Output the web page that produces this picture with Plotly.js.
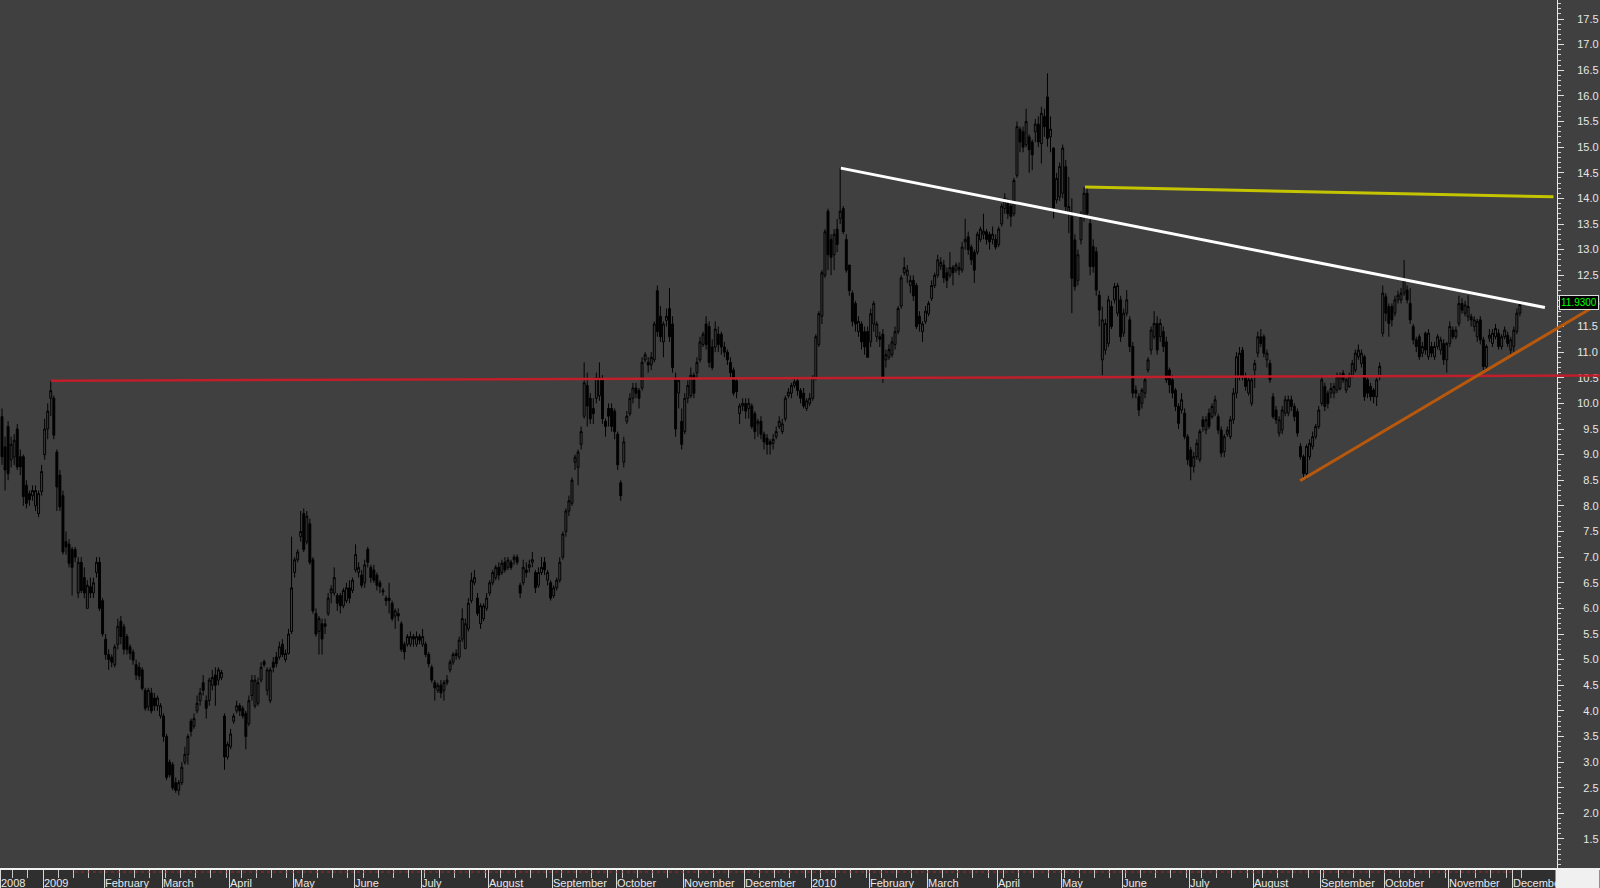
<!DOCTYPE html>
<html><head><meta charset="utf-8">
<script src="https://cdn.plot.ly/plotly-3.0.1.min.js"></script>
<style>html,body{margin:0;padding:0;background:#404040;overflow:hidden}#chart{width:1600px;height:888px}</style>
</head><body><div id="chart"></div>
<script>
// Daily OHLC, mid-Dec 2008 .. early Dec 2010 (one entry per trading day)
const openP = [
9.74,9.15,9.55,8.9,8.95,9.5,8.96,8.96,8.4,8.24,
8.2,8.0,7.85,8.28,9.0,9.5,10.1,10.1,9.05,8.6,
8.2,7.3,7.25,7.15,7.15,6.3,6.9,6.6,6.0,6.42,
6.3,6.7,6.9,6.15,5.4,5.1,5.05,4.9,5.3,5.75,
5.64,5.45,5.25,5.15,4.9,4.85,4.8,4.4,4.08,4.35,
4.25,4.1,3.9,3.9,3.5,3.0,2.95,2.6,2.45,2.6,
3.0,3.15,3.8,3.7,4.0,4.2,4.55,4.2,4.2,4.5,
4.7,4.6,4.65,3.9,3.1,3.3,3.8,4.0,4.1,4.05,
3.95,3.75,4.3,4.1,4.15,4.6,4.96,4.4,4.2,4.95,
5.05,5.05,5.3,5.0,5.12,5.55,6.7,6.95,7.4,7.85,
7.3,7.65,6.95,5.9,5.55,5.7,5.7,5.9,6.3,6.3,
6.25,6.25,6.05,6.15,6.4,6.35,6.75,6.7,6.65,6.5,
7.15,6.8,6.75,6.65,6.5,6.35,6.2,6.2,6.1,5.85,
5.9,5.7,5.3,5.3,5.3,5.45,5.3,5.45,5.3,5.3,
5.1,4.85,4.55,4.4,4.5,4.4,4.55,4.8,4.95,5.08,
5.05,5.4,5.22,5.6,6.15,6.5,6.2,5.7,5.8,6.0,
6.3,6.5,6.6,6.8,6.7,6.9,6.8,6.9,6.95,7.0,
6.45,6.5,6.75,6.8,6.9,6.7,6.45,6.7,6.9,6.55,
6.5,6.25,6.4,6.55,7.0,7.5,7.9,8.05,8.85,8.75,
9.2,9.75,10.35,10.1,9.9,10.1,10.15,10.45,9.65,9.9,
9.9,9.85,9.4,8.45,8.85,9.65,9.8,10.1,10.3,10.25,
10.3,10.85,10.8,10.75,10.85,12.2,11.7,11.2,11.62,11.85,
11.55,10.5,10.2,9.65,9.45,10.1,10.15,10.55,10.6,10.85,
11.15,11.55,11.5,11.1,11.1,11.35,11.35,11.1,11.0,10.8,
10.65,10.44,9.8,9.95,10.0,9.9,9.95,9.8,9.6,9.65,
9.4,9.32,9.25,9.22,9.35,9.55,9.45,9.7,10.15,10.2,
10.35,10.44,10.25,10.2,9.9,10.0,10.1,10.5,11.15,11.7,
12.5,13.75,13.2,12.9,13.4,13.6,13.8,13.2,12.7,12.15,
11.95,11.4,11.55,11.4,11.4,11.2,11.55,11.3,11.3,11.35,
10.85,10.9,10.95,11.15,11.4,11.9,12.55,12.5,12.3,12.4,
12.3,11.7,11.4,11.6,11.75,12.05,12.3,12.5,12.68,12.7,
12.55,12.5,12.65,12.6,12.6,12.6,13.15,13.25,13.05,12.95,
12.95,13.2,13.3,13.35,13.3,13.2,13.2,13.1,13.5,13.8,
13.9,13.85,13.7,14.45,15.35,15.3,15.05,15.2,15.1,15.3,
15.45,15.07,15.6,15.98,15.2,14.98,13.97,14.03,14.1,14.62,
13.71,13.64,13.19,12.4,13.19,13.64,14.1,13.51,13.06,12.96,
12.11,10.85,11.04,11.17,11.89,12.02,11.76,12.02,11.37,11.76,
11.63,11.11,10.26,10.13,10.0,10.2,10.65,11.04,11.3,11.56,
11.3,11.4,11.2,10.65,10.46,10.26,9.94,9.87,9.81,9.35,
9.09,8.77,8.96,8.9,9.68,9.48,9.81,9.74,9.81,9.74,
9.48,9.06,9.4,9.35,9.68,10.2,10.52,11.04,10.52,10.2,
10.0,10.65,10.98,11.3,11.3,10.85,10.78,10.13,9.87,9.42,
9.48,9.81,9.81,10.07,9.94,9.84,9.16,8.96,8.63,8.96,
9.16,9.35,9.55,10.0,10.33,10.2,10.2,10.2,10.26,10.29,
10.59,10.26,10.33,10.52,10.65,10.91,10.78,10.91,10.46,10.33,
10.26,10.13,10.52,11.37,12.08,11.89,11.89,11.76,12.02,12.02,
12.15,12.21,11.95,11.5,11.24,11.3,10.98,11.37,10.91,11.11,
10.91,11.11,11.04,11.17,10.85,11.17,11.43,11.3,11.56,11.95,
11.76,11.69,11.69,11.5,11.3,11.63,11.24,10.72,11.27,11.17,
11.3,11.37,11.11,11.3,11.33,11.04,11.11,11.4,11.76
];
const highP = [
9.9,9.35,9.65,9.35,9.4,9.6,9.1,9.0,8.5,8.3,
8.4,8.4,8.3,8.8,9.7,10.0,10.45,10.15,9.1,8.7,
8.3,7.5,7.35,7.2,7.2,7.0,7.0,6.8,6.55,6.6,
6.6,7.0,7.0,6.2,5.5,5.2,5.1,5.3,5.8,5.85,
5.7,5.5,5.3,5.2,5.0,4.95,4.85,4.45,4.45,4.45,
4.35,4.3,4.15,3.95,3.55,3.05,3.0,2.7,2.65,3.0,
3.3,3.55,3.85,3.95,4.3,4.45,4.7,4.3,4.65,4.8,
4.85,4.85,4.8,3.95,3.4,3.65,3.95,4.2,4.15,4.1,
4.0,4.3,4.7,4.7,4.65,4.95,5.0,4.85,4.85,5.05,
5.15,5.35,5.4,5.2,5.6,7.4,7.0,7.15,7.9,7.95,
7.9,7.75,7.0,6.0,5.85,5.8,5.8,6.3,6.45,6.8,
6.3,6.3,6.4,6.5,6.55,6.6,7.25,6.9,6.75,6.95,
7.2,6.85,6.85,6.7,6.55,6.4,6.25,6.5,6.15,6.0,
6.0,5.75,5.35,5.5,5.55,5.5,5.55,5.5,5.6,5.35,
5.15,4.9,4.6,4.55,4.6,4.6,4.7,5.0,5.15,5.2,
5.45,6.0,5.8,6.2,6.7,6.75,6.3,6.1,6.1,6.3,
6.55,6.75,6.85,6.9,6.95,7.0,7.0,6.95,7.05,7.05,
6.5,6.95,6.9,6.95,7.1,6.75,6.8,7.0,7.0,6.75,
6.55,6.45,6.6,7.0,7.5,7.95,8.2,8.55,9.0,9.1,
9.55,10.8,10.6,10.2,10.1,10.6,10.8,10.55,9.7,10.0,
10.0,9.9,9.45,8.5,9.35,9.85,10.2,10.4,10.4,10.3,
10.9,11.0,10.9,11.0,11.6,12.3,11.9,11.6,11.85,12.25,
11.7,10.6,10.5,9.9,10.2,10.45,10.7,10.6,10.9,11.3,
11.4,11.7,11.6,11.25,11.6,11.5,11.4,11.2,11.05,10.9,
10.7,10.5,10.0,10.1,10.1,10.1,10.0,9.85,9.7,9.75,
9.45,9.4,9.3,9.4,9.55,9.75,9.7,10.15,10.3,10.4,
10.5,10.5,10.3,10.3,10.1,10.2,10.55,11.35,11.8,12.6,
13.4,13.8,13.3,13.4,13.6,14.6,13.85,13.3,12.7,12.2,
12.0,11.7,11.6,11.5,11.5,11.85,12.0,11.6,11.4,11.45,
11.05,11.15,11.3,11.5,11.9,12.5,12.85,12.7,12.5,12.5,
12.35,11.8,11.6,11.9,12.0,12.4,12.55,12.9,12.85,12.8,
12.65,12.95,12.7,12.75,12.75,13.15,13.6,13.35,13.1,13.0,
13.35,13.45,13.7,13.4,13.35,13.45,13.3,13.45,13.9,14.1,
14.0,13.9,14.4,15.5,15.4,15.4,15.75,15.25,15.15,15.55,
15.6,15.79,15.75,16.44,15.6,15.0,14.5,14.7,15.05,14.75,
14.42,14.0,13.3,13.0,13.75,14.22,14.2,13.6,13.2,13.05,
12.2,11.89,11.65,12.1,12.0,12.35,12.35,12.1,11.85,12.21,
11.7,11.2,10.35,10.2,10.3,10.5,10.9,11.5,11.8,11.7,
11.65,11.5,11.3,10.7,10.55,10.3,10.0,10.2,9.9,9.4,
9.15,9.05,9.3,9.5,9.75,9.75,9.9,10.0,10.15,9.8,
9.55,9.4,9.55,9.75,10.3,11.0,11.1,11.1,10.6,10.5,
10.55,10.85,11.4,11.45,11.35,11.05,10.85,10.2,9.95,9.75,
9.95,10.15,10.15,10.15,10.0,9.9,9.22,9.0,9.2,9.3,
9.45,9.6,9.95,10.55,10.4,10.25,10.4,10.4,10.6,10.6,
10.65,10.5,10.6,10.85,11.05,11.15,11.05,10.95,10.5,10.4,
10.3,10.5,10.8,12.3,12.15,11.95,11.95,12.1,12.2,12.25,
12.8,12.3,12.25,11.55,11.3,11.35,11.2,11.4,11.45,11.2,
11.2,11.35,11.3,11.25,11.2,11.6,11.5,11.5,12.1,12.05,
12.0,12.11,11.75,11.7,11.65,11.7,11.3,11.15,11.45,11.45,
11.55,11.45,11.35,11.5,11.4,11.3,11.5,11.85,12.0
];
const lowP = [
8.8,8.3,8.5,8.75,8.8,8.7,8.6,8.0,7.95,8.0,
8.1,7.9,7.78,8.2,8.9,9.3,9.75,9.3,7.9,7.9,
7.05,7.05,6.8,6.25,6.9,6.2,6.3,6.2,6.0,6.2,
6.2,6.6,5.95,5.45,5.0,4.8,4.85,4.85,5.2,5.3,
5.1,5.1,5.0,4.9,4.6,4.6,4.4,4.0,4.0,3.95,
4.0,4.0,3.85,3.4,2.65,2.7,2.45,2.4,2.35,2.55,
2.95,2.95,3.5,3.65,3.95,4.1,4.3,3.85,4.1,4.4,
4.1,4.5,4.6,2.85,3.05,3.25,3.75,3.95,3.9,3.85,
3.25,3.7,4.2,4.05,4.1,4.55,4.85,4.3,4.15,4.75,
4.85,5.0,5.05,4.95,5.1,5.5,6.6,6.9,7.3,7.1,
7.25,6.85,5.9,5.45,5.1,5.1,5.5,5.85,6.1,6.25,
5.95,5.9,6.0,6.1,6.1,6.3,6.7,6.6,6.4,6.4,
6.8,6.5,6.5,6.35,6.3,6.25,6.05,5.9,5.75,5.6,
5.75,5.15,5.0,5.25,5.25,5.25,5.25,5.3,5.25,5.05,
4.85,4.55,4.2,4.35,4.25,4.2,4.5,4.75,4.9,5.0,
5.0,5.35,5.2,5.55,6.1,6.45,5.85,5.6,5.75,5.95,
6.25,6.45,6.55,6.55,6.65,6.7,6.75,6.75,6.85,6.85,
6.2,6.45,6.6,6.7,6.8,6.3,6.4,6.65,6.65,6.45,
6.15,6.2,6.35,6.5,6.95,7.4,7.8,8.0,8.7,8.4,
9.1,9.7,9.55,9.6,9.6,10.0,10.05,9.6,9.35,9.55,
9.45,9.3,8.7,8.1,8.75,9.6,9.75,10.0,10.1,9.9,
10.25,10.8,10.6,10.65,10.8,11.3,11.2,10.9,11.5,11.2,
10.6,9.35,9.9,9.1,9.4,10.0,10.1,10.1,10.5,10.8,
11.1,11.05,10.7,10.65,11.0,11.0,10.95,10.9,10.75,10.5,
10.15,10.1,9.6,9.85,9.7,9.7,9.5,9.3,9.35,9.3,
9.1,9.0,9.0,9.1,9.3,9.5,9.4,9.65,10.1,10.1,
10.3,10.15,10.0,9.9,9.85,9.95,10.05,10.45,11.1,11.55,
12.45,12.6,12.5,12.6,12.95,13.5,13.3,12.55,12.1,11.5,
11.4,11.3,11.05,10.95,10.9,11.1,11.4,11.2,11.1,10.4,
10.7,10.85,10.9,11.05,11.35,11.85,12.5,12.35,12.15,12.0,
11.45,11.4,11.2,11.55,11.7,12.0,12.25,12.45,12.6,12.35,
12.25,12.45,12.3,12.55,12.5,12.55,13.0,12.9,12.7,12.35,
12.9,13.15,13.2,13.1,13.0,13.1,13.0,13.05,13.45,13.7,
13.6,13.45,13.65,14.4,14.9,14.9,15.0,14.5,14.55,15.1,
15.0,14.68,15.2,15.01,14.9,13.61,13.9,13.95,14.0,13.75,
13.32,11.76,12.2,12.3,13.1,13.55,13.6,12.5,12.55,12.1,
11.5,10.55,10.95,11.1,11.45,11.95,11.7,11.2,11.3,11.7,
11.0,10.1,10.1,9.75,9.9,10.1,10.6,10.95,11.25,10.95,
11.2,11.0,10.4,10.2,10.1,9.85,9.5,9.8,9.3,8.8,
8.5,8.65,8.9,8.85,9.45,9.4,9.5,9.7,9.75,9.4,
8.95,8.95,9.35,9.3,9.6,10.1,10.45,10.45,10.25,10.15,
9.95,10.3,10.9,11.1,10.9,10.7,10.4,9.7,9.6,9.35,
9.4,9.75,9.75,9.85,9.65,9.35,8.9,8.55,8.52,8.9,
9.1,9.3,9.5,9.95,9.85,9.9,10.1,10.1,10.2,10.25,
10.4,10.2,10.3,10.5,10.6,10.85,10.7,10.05,10.1,10.05,
10.0,9.95,10.45,11.3,11.6,11.3,11.5,11.7,11.95,11.95,
12.1,11.95,11.55,11.15,11.0,10.85,10.9,10.95,10.85,10.9,
10.85,11.05,10.95,10.75,10.6,11.1,11.25,11.25,11.5,11.75,
11.7,11.6,11.5,11.4,11.2,11.15,10.65,10.65,11.2,11.1,
11.25,11.05,11.05,11.25,11.1,10.95,11.0,11.35,11.7
];
const closeP = [
8.96,8.7,8.63,9.2,9.28,8.76,8.76,8.18,8.05,8.12,
8.3,8.3,8.24,8.67,9.5,9.85,10.25,9.38,8.37,7.98,
7.1,7.2,6.88,6.8,7.0,6.9,6.35,6.3,6.45,6.3,
6.5,6.9,6.0,5.5,5.1,5.0,4.95,5.25,5.65,5.45,
5.2,5.2,5.12,4.99,4.7,4.68,4.44,4.05,4.4,4.0,
4.1,4.25,4.1,3.5,2.7,2.75,2.5,2.45,2.6,2.9,
3.15,3.5,3.6,3.85,4.15,4.35,4.4,4.05,4.6,4.65,
4.5,4.8,4.75,3.1,3.35,3.55,3.9,4.1,4.0,3.9,
3.5,4.2,4.6,4.6,4.55,4.85,4.9,4.8,4.8,4.85,
4.92,5.25,5.1,5.12,5.5,6.4,6.95,7.1,7.5,7.15,
7.8,6.9,5.95,5.5,5.8,5.4,5.65,6.2,6.38,6.6,
6.1,6.05,6.35,6.4,6.2,6.55,7.05,6.8,6.45,6.85,
6.9,6.6,6.55,6.45,6.42,6.32,6.15,6.15,5.8,5.95,
5.85,5.2,5.15,5.45,5.45,5.4,5.45,5.38,5.45,5.1,
4.92,4.6,4.45,4.5,4.35,4.55,4.6,4.95,5.1,5.12,
5.38,5.8,5.7,6.1,6.55,6.6,5.9,6.05,6.05,6.2,
6.5,6.7,6.8,6.65,6.88,6.75,6.94,6.8,7.0,6.9,
6.3,6.8,6.7,6.85,6.95,6.4,6.7,6.8,6.75,6.7,
6.2,6.4,6.55,6.9,7.45,7.9,8.1,8.5,8.95,9.05,
9.45,10.4,9.95,9.7,9.8,10.5,10.5,9.7,9.55,9.75,
9.55,9.45,8.8,8.2,9.25,9.75,10.1,10.3,10.2,10.1,
10.8,10.95,10.75,10.9,11.55,11.4,11.3,11.55,11.7,11.3,
10.7,9.5,10.45,9.2,10.1,10.35,10.55,10.2,10.8,11.2,
11.35,11.15,10.8,10.7,11.45,11.15,11.1,11.0,10.85,10.6,
10.2,10.23,9.95,10.0,9.85,10.0,9.55,9.45,9.65,9.4,
9.25,9.2,9.2,9.3,9.45,9.65,9.6,10.1,10.22,10.35,
10.42,10.25,10.1,9.95,10.05,10.1,10.5,11.3,11.75,12.55,
13.35,12.9,12.85,13.3,13.1,13.75,13.35,12.6,12.2,11.6,
11.55,11.6,11.2,11.1,10.9,11.75,11.95,11.55,11.25,10.5,
10.95,11.05,11.2,11.4,11.85,12.45,12.65,12.6,12.4,12.1,
11.5,11.55,11.55,11.8,11.95,12.3,12.5,12.8,12.75,12.45,
12.4,12.65,12.55,12.7,12.65,13.05,13.2,13.0,12.8,12.6,
13.3,13.4,13.36,13.2,13.15,13.3,13.05,13.4,13.85,14.0,
13.7,13.65,14.35,15.4,15.1,15.0,15.5,14.95,14.85,15.45,
15.1,15.66,15.4,15.17,15.35,13.81,14.39,14.62,14.98,13.84,
13.84,12.44,12.28,12.9,13.64,14.1,13.71,12.67,12.67,12.21,
11.82,11.63,11.56,12.02,11.5,12.28,12.3,11.3,11.76,12.02,
11.11,10.2,10.2,9.87,10.26,10.46,10.85,11.43,11.56,11.04,
11.56,11.11,10.46,10.36,10.2,9.94,9.61,10.07,9.35,8.9,
8.77,8.96,9.22,9.45,9.55,9.68,9.55,9.94,10.07,9.48,
9.03,9.35,9.48,9.68,10.2,10.91,10.98,10.52,10.33,10.46,
10.46,10.78,11.3,11.17,10.98,10.98,10.46,9.74,9.68,9.68,
9.87,10.07,10.07,9.94,9.74,9.42,8.96,8.63,9.16,9.22,
9.35,9.55,9.87,10.46,9.94,10.0,10.29,10.33,10.52,10.52,
10.46,10.46,10.52,10.78,10.98,11.04,10.98,10.13,10.2,10.13,
10.13,10.46,10.72,12.15,11.76,11.56,11.63,12.02,12.11,12.15,
12.41,12.02,11.63,11.24,11.11,10.91,11.11,11.04,11.37,10.98,
11.11,11.3,11.24,10.85,11.17,11.5,11.3,11.43,11.95,11.82,
11.92,11.89,11.63,11.63,11.6,11.24,10.72,11.11,11.33,11.37,
11.46,11.11,11.3,11.43,11.17,11.24,11.43,11.76,11.93
];

// Month labels along the bottom and the trading-day index where each month starts
const monthLabels = ['2008','2009','February','March','April','May','June','July','August','September','October','November','December',
                     '2010','February','March','April','May','June','July','August','September','October','November','December'];
const monthStarts = [0,14,34,53,75,96,116,138,160,181,202,224,244,266,285,304,327,348,368,390,411,433,454,475,496];

// Price axis ticks (the 12.0 label sits under the last-price tag, as in the original)
const yTickVals = [1.5,2.0,2.5,3.0,3.5,4.0,4.5,5.0,5.5,6.0,6.5,7.0,7.5,8.0,8.5,9.0,9.5,10.0,10.5,11.0,11.5,12.0,12.5,13.0,13.5,14.0,14.5,15.0,15.5,16.0,16.5,17.0,17.5];
const hiddenTickVals = [12.0];

// Hand-drawn trend lines: [start index, end index] and [start price, end price]
const redX = [16, 524.3],      redY = [10.44, 10.545];
const whiteX = [275.2, 506.2], whiteY = [14.59, 11.87];
const yellowX = [355.3, 509],  yellowY = [14.22, 14.03];
const orangeX = [425.9, 524.3], orangeY = [8.49, 11.96];

const idx = closeP.map((_, i) => i);
const weekTicks = [];
for (let i = 4; i < 500; i += 5) weekTicks.push(i - 0.5);

const BG = '#404040';
const FONT = 'Liberation Sans, Arial, sans-serif';

const traces = [
  {type: 'candlestick', x: idx, open: openP, high: highP, low: lowP, close: closeP,
   increasing: {line: {color: '#000000', width: 1}, fillcolor: BG},
   decreasing: {line: {color: '#000000', width: 1}, fillcolor: '#000000'},
   whiskerwidth: 0, hoverinfo: 'skip', showlegend: false},
  {type: 'scatter', mode: 'lines', x: redX, y: redY, line: {color: '#bf1e2a', width: 2.5}, hoverinfo: 'skip'},
  {type: 'scatter', mode: 'lines', x: yellowX, y: yellowY, line: {color: '#c4c400', width: 3}, hoverinfo: 'skip'},
  {type: 'scatter', mode: 'lines', x: orangeX, y: orangeY, line: {color: '#b8580c', width: 3}, hoverinfo: 'skip'},
  {type: 'scatter', mode: 'lines', x: whiteX, y: whiteY, line: {color: '#ffffff', width: 3}, hoverinfo: 'skip'}
];

const annotations = monthLabels.map((t, k) => ({
  x: monthStarts[k] - 0.5, xref: 'x', y: 0, yref: 'paper', xanchor: 'left', yanchor: 'top',
  yshift: -8, xshift: 0, text: t, showarrow: false, borderpad: 0,
  font: {family: FONT, size: 11, color: '#e8e8e8'}
}));
// light corner block under the price scale
annotations.push({x: 1, xref: 'paper', y: 0, yref: 'paper', xanchor: 'right', yanchor: 'top',
  yshift: -1, text: ' ', width: 43, height: 20, bgcolor: '#f0f0f0', borderpad: 0, showarrow: false});
// last price tag
annotations.push({x: 1559 / 1600, xref: 'paper', xanchor: 'left', y: closeP[closeP.length - 1] + 0.03, yref: 'y', yanchor: 'middle',
  text: closeP[closeP.length - 1].toFixed(4), showarrow: false, bgcolor: '#000000', bordercolor: '#dcdcdc',
  borderwidth: 1, borderpad: 1, font: {family: FONT, size: 10, color: '#00ff00'}});

const fs = '\u2007';
const layout = {
  width: 1600, height: 888,
  margin: {l: 0, r: 0, t: 0, b: 20, pad: 0},
  paper_bgcolor: BG, plot_bgcolor: BG, showlegend: false,
  boxgap: 0.1,
  font: {family: FONT, size: 11, color: '#e8e8e8'},
  xaxis: {range: [-0.6562, 524.278], showgrid: false, zeroline: false, fixedrange: true,
          showline: true, linecolor: '#f2f2f2', linewidth: 2,
          tickmode: 'array', tickvals: monthStarts.map(v => v - 0.5), ticks: 'outside', ticklen: 20,
          tickcolor: '#d8d8d8', tickwidth: 1, showticklabels: false,
          minor: {tickmode: 'array', tickvals: weekTicks, ticks: 'outside', ticklen: 8, tickcolor: '#c8c8c8', tickwidth: 1},
          rangeslider: {visible: false}, layer: 'below traces'},
  yaxis: {range: [0.934, 17.871], anchor: 'free', position: 1557 / 1600, side: 'right',
          showgrid: false, zeroline: false, fixedrange: true,
          showline: true, linecolor: '#e8e8e8', linewidth: 1,
          tickmode: 'array', tickvals: yTickVals,
          ticktext: yTickVals.map(v => hiddenTickVals.includes(v) ? '' : (v < 10 ? fs : '') + v.toFixed(1)),
          ticks: 'outside', ticklen: 6, tickcolor: '#e0e0e0', tickwidth: 1,
          ticklabelstandoff: 11,
          tickfont: {family: FONT, size: 11, color: '#e6e6e6'},
          minor: {tickmode: 'linear', tick0: 0, dtick: 0.1, ticks: 'outside', ticklen: 3, tickcolor: '#d0d0d0', tickwidth: 1},
          layer: 'below traces'},
  shapes: [
    {type: 'rect', xref: 'paper', yref: 'paper', x0: 0, x1: 1, y0: -20 / 868, y1: 0,
     fillcolor: '#2f2f2f', line: {width: 0}, layer: 'below'},
    {type: 'line', xref: 'paper', yref: 'paper', x0: 75 / 1600, x1: 1515 / 1600, y0: -4 / 868, y1: -4 / 868,
     line: {color: '#b82424', width: 1, dash: 'dot'}, layer: 'above'}
  ],
  annotations: annotations
};

Plotly.newPlot('chart', traces, layout, {staticPlot: true, displayModeBar: false});
</script>
</body></html>
